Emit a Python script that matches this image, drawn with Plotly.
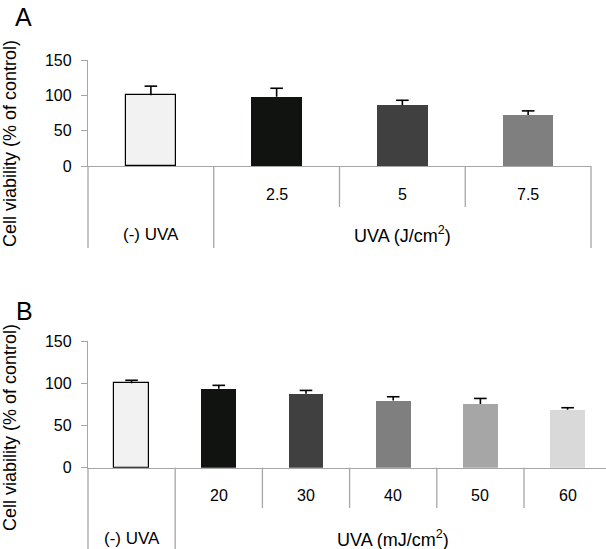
import plotly.graph_objects as go

W, H = 606, 549

# ---- data ----
a_categories = ["(-) UVA", "2.5", "5", "7.5"]
a_values = [100, 98, 86, 72]
a_errors = [13, 12, 7, 6]
a_colors = ["#f2f2f2", "#111311", "#404040", "#7f7f7f"]
a_group_title = "UVA (J/cm<sup>2</sup>)"

b_categories = ["(-) UVA", "20", "30", "40", "50", "60"]
b_values = [100, 93.5, 87.5, 79.5, 75.5, 68.5]
b_errors = [3.5, 4, 4, 4.5, 6.5, 2.5]
b_colors = ["#f2f2f2", "#111311", "#404040", "#7f7f7f", "#a6a6a6", "#d9d9d9"]
b_group_title = "UVA (mJ/cm<sup>2</sup>)"

y_ticks = [0, 50, 100, 150]
y_title = "Cell viability (% of control)"

FONT = "Liberation Sans, Arial, Helvetica, sans-serif"
AX = "#a6a6a6"


def px_x(p):
    return p / W


def px_y(p):
    return 1 - p / H


fig = go.Figure()


def add_panel(cats, vals, errs, colors, xa, ya):
    n = len(cats)
    xs = list(range(n))
    fig.add_trace(go.Bar(
        x=xs, y=vals, width=0.4,
        marker=dict(color=colors,
                    line=dict(color=["#000000"] + colors[1:],
                              width=[1.2] + [0] * (n - 1))),
        error_y=dict(type="data", array=errs, arrayminus=[0] * n,
                     symmetric=False, color="#000000", thickness=1.6, width=0),
        xaxis=xa, yaxis=ya, showlegend=False, hoverinfo="skip",
    ))
    # caps at the top of each error bar
    fig.add_trace(go.Scatter(
        x=xs, y=[v + e for v, e in zip(vals, errs)], mode="markers",
        marker=dict(symbol="line-ew", size=9,
                    line=dict(color="#000000", width=1.6)),
        xaxis=xa, yaxis=ya, showlegend=False, hoverinfo="skip",
        cliponaxis=False,
    ))


add_panel(a_categories, a_values, a_errors, a_colors, "x", "y")
add_panel(b_categories, b_values, b_errors, b_colors, "x2", "y2")

yax = dict(range=[0, 150], tickvals=y_ticks, showgrid=False, zeroline=False,
           showline=True, linecolor=AX, linewidth=1.3, ticks="outside",
           ticklen=6, tickcolor=AX, tickwidth=1.3, ticklabelstandoff=6,
           automargin=False,
           tickfont=dict(family=FONT, size=16, color="#000000"))
xax = dict(showgrid=False, zeroline=False, showline=True, linecolor=AX,
           linewidth=1.3, ticks="", showticklabels=False, automargin=False)

nA = len(a_categories)
cellB = (606 - 88) / 87.2  # visible number of category cells in panel B

fig.update_layout(
    template="none",
    width=W, height=H, margin=dict(l=0, r=0, t=0, b=0, pad=0, autoexpand=False),
    paper_bgcolor="white", plot_bgcolor="white", bargap=0,
    xaxis=dict(domain=[px_x(88), px_x(591)], range=[-0.5, nA - 0.5],
               anchor="y", **xax),
    yaxis=dict(domain=[px_y(166), px_y(60)], anchor="x", **yax),
    xaxis2=dict(domain=[px_x(88), 1], range=[-0.5, -0.5 + cellB],
                anchor="y2", **xax),
    yaxis2=dict(domain=[px_y(467.7), px_y(341)], anchor="x2", **yax),
)

shapes = []
annotations = []
line = dict(color=AX, width=1.3)


def label(x, y, xref, text, size=16, angle=0):
    annotations.append(dict(x=x, y=y, xref=xref, yref="paper", text=text,
                            showarrow=False, xanchor="center", yanchor="middle",
                            textangle=angle,
                            font=dict(family=FONT, size=size, color="#000")))


def panel_deco(cats, xa, ya_dom_bottom, short_bottom, long_bottom,
               dose_y, group_y, group_title, draw_right):
    n = len(cats)
    for i in range(n + 1):
        xv = i - 0.5
        is_long = i in (0, 1, n)
        if i == n and not draw_right:
            continue
        yb = long_bottom if is_long else short_bottom
        if i == 0:
            shapes.append(dict(type="line", xref=xa + " domain", yref="paper",
                               x0=0, x1=0, y0=ya_dom_bottom, y1=yb, line=line))
        elif i == n:
            shapes.append(dict(type="line", xref=xa + " domain", yref="paper",
                               x0=1, x1=1, y0=ya_dom_bottom, y1=yb, line=line))
        else:
            shapes.append(dict(type="line", xref=xa, yref="paper",
                               x0=xv, x1=xv, y0=ya_dom_bottom, y1=yb, line=line))
    label(0, group_y, xa, cats[0], size=17)
    for i in range(1, n):
        label(i, dose_y, xa, cats[i], size=16)
    label(n / 2, group_y, xa, group_title, size=18)


panel_deco(a_categories, "x", px_y(166), px_y(207), px_y(248),
           px_y(195), px_y(235), a_group_title, True)
panel_deco(b_categories, "x2", px_y(467.7), px_y(508), 0,
           px_y(495), px_y(538), b_group_title, False)

# panel letters and y titles
for letter, lx, ly, ty in [("A", 23, 17.5, 144), ("B", 24, 310.5, 428)]:
    label(px_x(lx), px_y(ly), "paper", letter, size=25)
    label(px_x(10), px_y(ty), "paper", y_title, size=18, angle=-90)

fig.update_layout(shapes=shapes, annotations=annotations)
fig.write_html("out.html",
               config={"displayModeBar": False},
               post_script="document.body.style.margin='0px';"
                           "document.body.style.overflow='hidden';")
